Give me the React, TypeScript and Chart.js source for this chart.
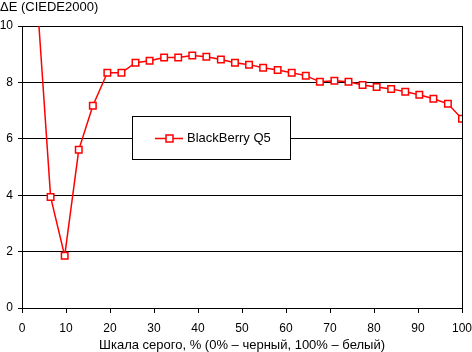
import React, { useEffect, useRef } from "react";
import { Chart, registerables } from "chart.js";

Chart.register(...registerables);

const seriesLabel = "BlackBerry Q5";
const yAxisLabel = "ΔE (CIEDE2000)";
const xAxisLabel = "Шкала серого, % (0% – черный, 100% – белый)";

// gray level, %
const grayPercent = [
  3.2, 6.5, 9.7, 12.9, 16.1, 19.4, 22.6, 25.8, 29.0, 32.3, 35.5, 38.7, 41.9, 45.2, 48.4, 51.6,
  54.8, 58.1, 61.3, 64.5, 67.7, 71.0, 74.2, 77.4, 80.6, 83.9, 87.1, 90.3, 93.5, 96.8, 100,
];
// delta E values
const deltaE = [
  11.5, 3.94, 1.85, 5.61, 7.17, 8.34, 8.34, 8.7, 8.77, 8.88, 8.88, 8.95, 8.91, 8.81, 8.7, 8.63,
  8.52, 8.44, 8.34, 8.24, 8.02, 8.06, 8.02, 7.91, 7.84, 7.77, 7.67, 7.56, 7.42, 7.24, 6.71,
];

const FONT = "'Liberation Sans', Arial, sans-serif";
const RED = "#ff0000";

export default function App() {
  const ref = useRef<HTMLCanvasElement>(null);

  useEffect(() => {
    if (!ref.current) return;

    const extras = {
      id: "extras",
      afterDraw(chart: any) {
        const { ctx, chartArea } = chart;
        ctx.save();
        // right border
        ctx.strokeStyle = "#000";
        ctx.lineWidth = 1;
        ctx.beginPath();
        ctx.moveTo(Math.round(chartArea.right) + 0.5, chartArea.top);
        ctx.lineTo(Math.round(chartArea.right) + 0.5, chartArea.bottom);
        ctx.stroke();
        // y axis title
        ctx.fillStyle = "#000";
        ctx.font = `13px ${FONT}`;
        ctx.textAlign = "left";
        ctx.textBaseline = "alphabetic";
        ctx.fillText(yAxisLabel, 0, 11);
        // legend
        const bx = 132.5, by = 116.5, bw = 158, bh = 43;
        ctx.fillStyle = "#fff";
        ctx.fillRect(bx, by, bw, bh);
        ctx.strokeStyle = "#000";
        ctx.strokeRect(bx, by, bw, bh);
        const ly = 138.5;
        ctx.strokeStyle = RED;
        ctx.lineWidth = 1.5;
        ctx.beginPath();
        ctx.moveTo(155, ly);
        ctx.lineTo(183, ly);
        ctx.stroke();
        ctx.fillStyle = "#fff";
        ctx.fillRect(166, ly - 3.5, 7, 7);
        ctx.strokeRect(166, ly - 3.5, 7, 7);
        ctx.fillStyle = "#000";
        ctx.font = `13px ${FONT}`;
        ctx.textBaseline = "middle";
        ctx.fillText(chart.data.datasets[0].label, 187, ly);
        ctx.restore();
      },
    };

    const chart = new Chart(ref.current, {
      type: "line",
      data: {
        datasets: [
          {
            label: seriesLabel,
            data: grayPercent.map((x, i) => ({ x, y: deltaE[i] })),
            borderColor: RED,
            borderWidth: 1.5,
            pointStyle: "rect",
            pointRadius: 4.6,
            pointBorderWidth: 1.5,
            pointBorderColor: RED,
            pointBackgroundColor: "#fff",
            tension: 0,
          },
        ],
      },
      options: {
        responsive: false,
        animation: false,
        layout: { padding: { top: 26, right: 10, left: 0, bottom: 0 } },
        plugins: { legend: { display: false }, tooltip: { enabled: false } },
        scales: {
          x: {
            type: "linear",
            min: 0,
            max: 100,
            ticks: { stepSize: 10, color: "#000", font: { family: FONT, size: 12 }, padding: 8, maxRotation: 0 },
            grid: { drawOnChartArea: false, drawTicks: true, tickLength: 5, color: "#000" },
            border: { display: true, color: "#000" },
            title: {
              display: true,
              text: xAxisLabel,
              color: "#000",
              font: { family: FONT, size: 13 },
              padding: { top: 0, bottom: -1 },
            },
            afterFit: (s: any) => {
              s.height = 44;
              s.paddingLeft = 0;
              s.paddingRight = 0;
            },
          },
          y: {
            min: 0,
            max: 10,
            ticks: { stepSize: 2, color: "#000", font: { family: FONT, size: 12 }, padding: 5 },
            grid: { color: "#000", tickLength: 4 },
            border: { display: true, color: "#000" },
            afterFit: (s: any) => {
              s.width = 22;
              s.paddingTop = 0;
              s.paddingBottom = 0;
            },
          },
        },
      },
      plugins: [extras],
    });
    return () => chart.destroy();
  }, []);

  return (
    <div style={{ position: "absolute", left: 0, top: 0, width: 472, height: 352, background: "#fff" }}>
      <canvas ref={ref} width={472} height={352} style={{ display: "block" }} />
    </div>
  );
}
